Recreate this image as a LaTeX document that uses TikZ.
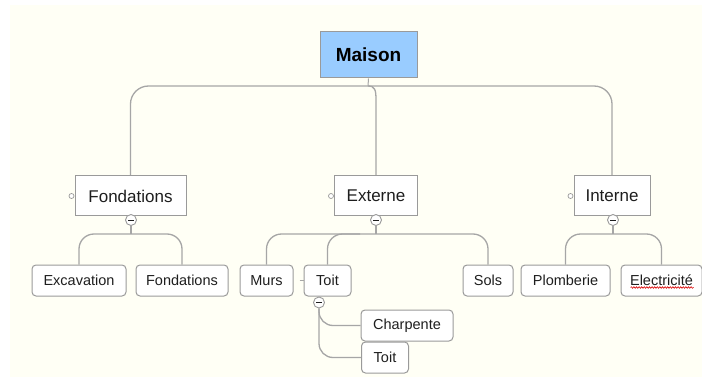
\documentclass[tikz,border=0pt]{standalone}
\usepackage{fontspec}
\setmainfont{Liberation Sans}
\usetikzlibrary{decorations.pathmorphing}
\definecolor{paper}{HTML}{FFFFF5}
\definecolor{edge}{HTML}{A6A6A6}
\definecolor{boxline}{HTML}{9A9A9A}
\definecolor{rootfill}{HTML}{99CCFF}
\definecolor{ink}{HTML}{1E1E1E}
\tikzset{
  rootbox/.style={draw=boxline, fill=rootfill, line width=1pt, minimum width=97pt, minimum height=46pt,
    inner sep=0pt, text=black, font=\fontsize{19}{22}\selectfont\bfseries},
  topicbox/.style={draw=boxline, fill=white, line width=1pt, minimum height=40pt, inner sep=0pt,
    text=ink, font=\fontsize{17}{20}\selectfont},
  leafbox/.style={draw=boxline, fill=white, line width=1pt, rounded corners=4pt, minimum height=31pt,
    inner sep=0pt, text=ink, font=\fontsize{14.5}{17}\selectfont},
  conn/.style={draw=edge, line width=1.3pt},
  fold/.style={circle, draw=boxline, fill=white, line width=0.9pt, minimum size=11pt, inner sep=0pt,
    path picture={\draw[ink, line width=0.9pt] ([xshift=-2.6pt]path picture bounding box.center) -- ([xshift=2.6pt]path picture bounding box.center);}},
  pin/.style={circle, draw=boxline, fill=white, line width=0.7pt, minimum size=5pt, inner sep=0pt},
}
\begin{document}
\begin{tikzpicture}[x=1pt,y=-1pt]
  % page and canvas
  \fill[white] (0,0) rectangle (702,377);
  \fill[paper] (10,5) rectangle (702,377);
  \useasboundingbox (0,0) rectangle (702,377);

  % hub below the central topic
  \coordinate (hub) at (368,86);

  % connectors of the first level
  \draw[conn, rounded corners=18pt] (130.5,176) |- (hub) -| (612,176);
  \draw[conn] (hub) .. controls (375,86) and (376,90) .. (376,100) -- (376,176);

  % central topic
  \node[rootbox] (mais) at (368.5,55) {Maison};
  \draw[conn, line width=1pt] (mais.south) -- (hub);

  % main topics
  \node[topicbox, minimum width=111pt] (fond) at (130.5,196) {Fondations};
  \node[topicbox, minimum width=83pt]  (ext)  at (376,196) {Externe};
  \node[topicbox, minimum width=76pt]  (intr) at (612,196) {Interne};

  \node[pin] (fondp) at ([xshift=-3pt]fond.west) {};
  \node[pin] (extp)  at ([xshift=-3pt]ext.west) {};
  \node[pin] (intrp) at ([xshift=-3pt]intr.west) {};

  % leaves
  \node[leafbox, minimum width=94pt] (exc)   at (79,280.5)  {Excavation};
  \node[leafbox, minimum width=92pt] (fond2) at (182,280.5) {Fondations};
  \node[leafbox, minimum width=53pt] (murs)  at (266.5,280.5) {Murs};
  \node[leafbox, minimum width=47pt] (toit)  at (327.5,280.5) {Toit};
  \node[leafbox, minimum width=50pt] (sols)  at (488,280.5) {Sols};
  \node[leafbox, minimum width=89pt] (plom)  at (565.5,280.5) {Plomberie};
  \node[leafbox, minimum width=81pt] (elec)  at (661.5,280.5) {Electricité};
  \node[leafbox, minimum width=92pt] (charp) at (407,325.5) {Charpente};
  \node[leafbox, minimum width=47pt] (toit2) at (385,357.5) {Toit};

  % spelling mark under Electricité
  \draw[red!85!black, line width=0.6pt, decorate, decoration={snake, amplitude=0.8pt, segment length=2.6pt}]
    ([xshift=-31pt,yshift=-7pt]elec.center) -- ([xshift=32pt,yshift=-7pt]elec.center);

  % fold buttons
  \node[fold] (fondm) at (131,220) {};
  \node[fold] (extm)  at (376,220) {};
  \node[fold] (intm)  at (613,220) {};
  \node[fold] (toitm) at (319,302.5) {};

  % branches under Fondations
  \draw[conn] (fondm.south) -- (131,234);
  \draw[conn, rounded corners=15pt] (exc.north) |- (131,234) -| (fond2.north);

  % branches under Externe
  \draw[conn] (extm.south) -- (376,234);
  \draw[conn, rounded corners=15pt] (murs.north) |- (376,234) -| (sols.north);
  \draw[conn, rounded corners=15pt] (toit.north) |- (360,234);
  \draw[conn, line width=0.8pt] ([xshift=-4pt]toit.west) -- (toit.west);

  % branches under Interne
  \draw[conn] (intm.south) -- (613,234);
  \draw[conn, rounded corners=15pt] (plom.north) |- (613,234) -| (elec.north);

  % branches under Toit
  \draw[conn, rounded corners=14pt] (toitm.south) |- (charp.west);
  \draw[conn, rounded corners=14pt] (toitm.south) |- (toit2.west);
\end{tikzpicture}
\end{document}
